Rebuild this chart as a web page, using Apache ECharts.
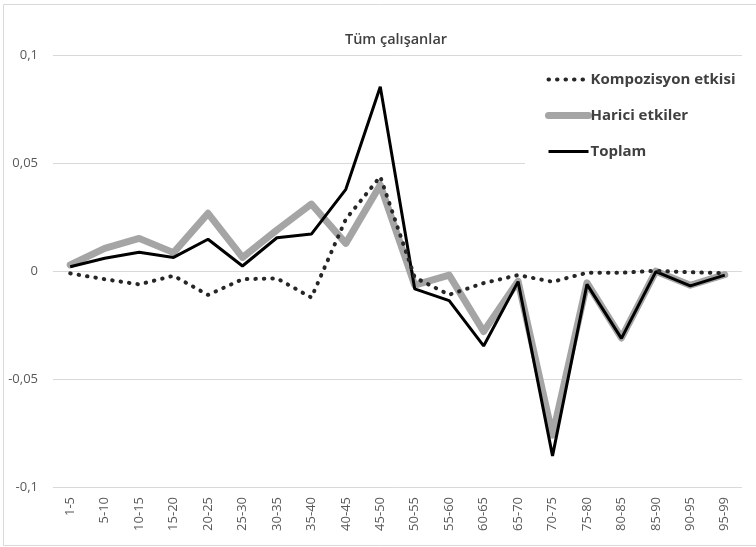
<!DOCTYPE html>
<html>
<head>
<meta charset="utf-8">
<script src="https://cdn.jsdelivr.net/npm/echarts@6/dist/echarts.min.js"></script>
<style>
  html, body { margin: 0; padding: 0; background: #fff; }
  #chart { width: 756px; height: 547px; }
</style>
</head>
<body>
<div id="chart"></div>
<script>
// yaş grupları
const categories = ["1-5", "5-10", "10-15", "15-20", "20-25", "25-30", "30-35", "35-40", "40-45", "45-50",
  "50-55", "55-60", "60-65", "65-70", "70-75", "75-80", "80-85", "85-90", "90-95", "95-99"];

const kompozisyon = [-0.0011, -0.0038, -0.0062, -0.0022, -0.0111, -0.0038, -0.0034, -0.0123, 0.024, 0.0437,
  -0.003, -0.011, -0.0056, -0.0019, -0.005, -0.0008, -0.0008, 0.0001, -0.0006, -0.001];

const harici = [0.0028, 0.0105, 0.0151, 0.0085, 0.0267, 0.0063, 0.019, 0.031, 0.0128, 0.0398,
  -0.0065, -0.0019, -0.028, -0.0047, -0.076, -0.0055, -0.031, -0.0001, -0.0066, -0.0017];

const toplam = [0.002, 0.0059, 0.0087, 0.0063, 0.0147, 0.0023, 0.0154, 0.0171, 0.0378, 0.0853,
  -0.0083, -0.0137, -0.0347, -0.0049, -0.0856, -0.0062, -0.0312, -0.0003, -0.0069, -0.0019];

const chart = echarts.init(document.getElementById("chart"));

const options = {
  backgroundColor: "#fff",
  animation: false,
  title: {
    text: "Tüm çalışanlar",
    left: 391,
    top: 27,
    textAlign: "center",
    textStyle: {
      fontFamily: "Open Sans",
      fontSize: 14.5,
      fontWeight: 600,
      color: "#404040",
    },
  },
  // çerçeve
  graphic: [
    {
      type: "rect",
      shape: { x: 3.5, y: 4.5, width: 800, height: 541 },
      style: { fill: "none", stroke: "#d9d9d9", lineWidth: 1 },
      silent: true,
      z: -10,
    },
  ],
  legend: {
    orient: "vertical",
    left: 525,
    top: 58,
    padding: [14, 8, 12, 20],
    itemGap: 21,
    itemWidth: 40,
    itemHeight: 14,
    backgroundColor: "#fff",
    itemStyle: { opacity: 0 },
    lineStyle: { width: "inherit" },
    textStyle: {
      fontFamily: "Open Sans",
      fontSize: 15,
      fontWeight: "bold",
      color: "#404040",
      padding: [0, 0, 0, -3],
    },
    data: ["Kompozisyon etkisi", "Harici etkiler", "Toplam"],
  },
  grid: {
    left: 53,
    right: 14,
    top: 55,
    bottom: 60,
  },
  xAxis: {
    type: "category",
    data: categories,
    boundaryGap: true,
    axisLine: { show: false },
    axisTick: { show: false },
    axisLabel: {
      rotate: 90,
      interval: 0,
      margin: 10,
      fontFamily: "Open Sans",
      fontSize: 13,
      color: "#595959",
    },
  },
  yAxis: {
    type: "value",
    min: -0.1,
    max: 0.1,
    interval: 0.05,
    axisLine: { show: false },
    axisTick: { show: false },
    axisLabel: {
      margin: 15,
      fontFamily: "Open Sans",
      fontSize: 13,
      color: "#595959",
      formatter: (v) => String(Math.round(v * 100) / 100).replace(".", ","),
    },
    splitLine: { lineStyle: { color: "#d9d9d9", width: 1 } },
  },
  series: [
    {
      name: "Kompozisyon etkisi",
      type: "line",
      symbol: "none",
      z: 4,
      lineStyle: { color: "#262626", width: 4, type: [0.5, 8], cap: "round" },
      itemStyle: { color: "#262626" },
      data: kompozisyon,
    },
    {
      name: "Harici etkiler",
      type: "line",
      symbol: "none",
      z: 2,
      lineStyle: { color: "#a5a5a5", width: 7, cap: "round", join: "round" },
      itemStyle: { color: "#a5a5a5" },
      data: harici,
    },
    {
      name: "Toplam",
      type: "line",
      symbol: "none",
      z: 3,
      lineStyle: { color: "#000", width: 3 },
      itemStyle: { color: "#000" },
      data: toplam,
    },
  ],
};

chart.setOption(options);
</script>
</body>
</html>
